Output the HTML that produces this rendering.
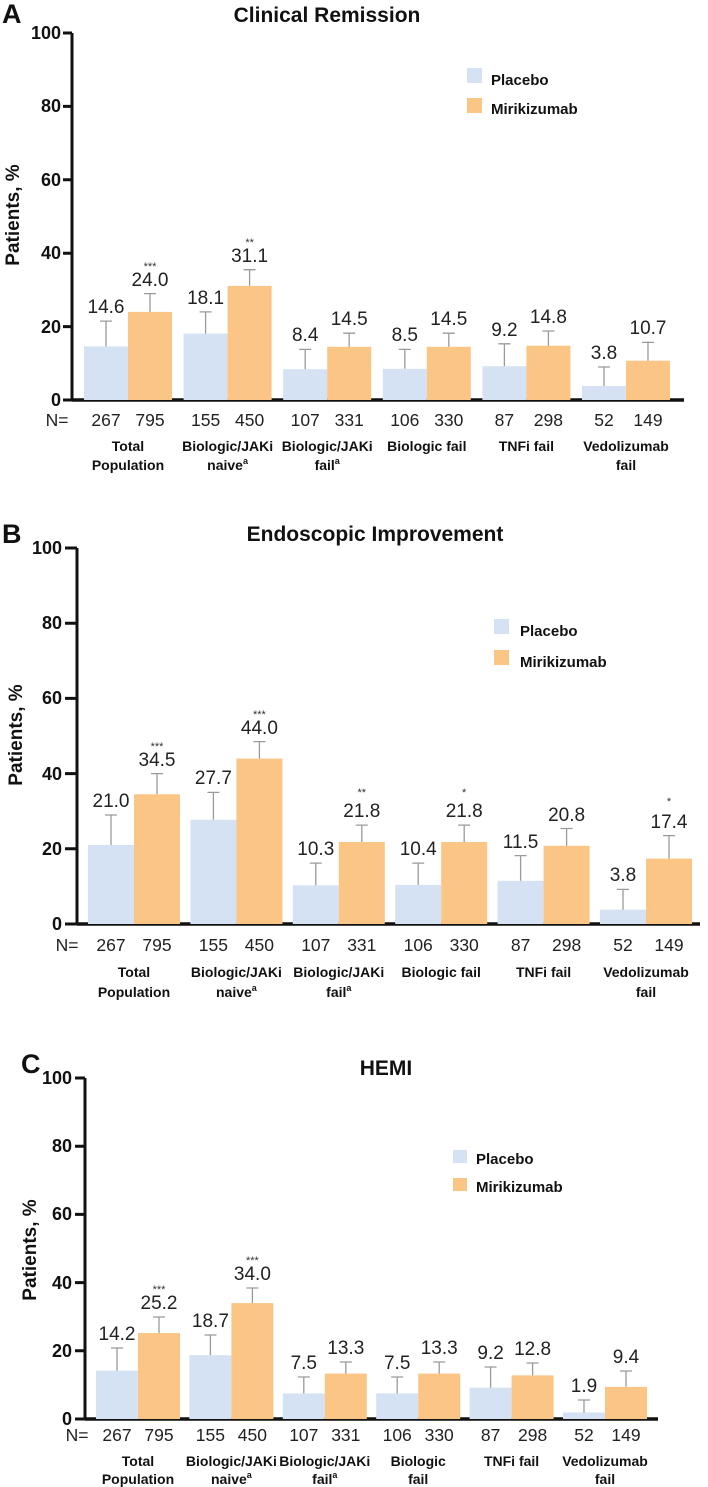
<!DOCTYPE html>
<html><head><meta charset="utf-8"><style>
html,body{margin:0;padding:0;background:#fff}
svg{display:block}
text{font-family:"Liberation Sans",Arial,sans-serif}
.v{font-size:19px;text-anchor:middle;fill:#222}
.n{font-size:17.5px;text-anchor:middle;fill:#222}
.t{font-size:18px;font-weight:bold;text-anchor:end;fill:#111}
.c{font-size:14px;font-weight:bold;text-anchor:middle;fill:#111}
.s{font-size:11px;text-anchor:middle;fill:#333}
.lg{font-size:15px;font-weight:bold;fill:#111}
.ti{font-size:21px;font-weight:bold;text-anchor:middle;fill:#111}
.pl{fill:#d4e2f4}.mi{fill:#fbc585}
.e{stroke:#9a9a9a;stroke-width:1.3;fill:none}
.ax{stroke:#111;fill:none}
</style></head><body>
<svg width="708" height="1487" viewBox="0 0 708 1487" xmlns="http://www.w3.org/2000/svg">
<!-- ============ PANEL A ============ -->
<text x="2" y="23" font-size="27" font-weight="bold" fill="#111">A</text>
<text class="ti" x="327" y="22">Clinical Remission</text>
<text font-size="19" font-weight="bold" fill="#111" text-anchor="middle" transform="translate(19,215) rotate(-90)">Patients, %</text>
<g class="ax" stroke-width="3"><path d="M72,33V401M63,33H72M63,106.4H72M63,179.8H72M63,253.2H72M63,326.6H72M63,400H72"/></g>
<path class="ax" stroke-width="3.5" d="M72,400H684"/>
<g><text class="t" x="61" y="39">100</text><text class="t" x="61" y="112">80</text><text class="t" x="61" y="186">60</text><text class="t" x="61" y="259">40</text><text class="t" x="61" y="333">20</text><text class="t" x="61" y="406">0</text></g>
<rect class="pl" x="84" y="346.4" width="44" height="53.6"/><rect class="pl" x="183.6" y="333.6" width="44" height="66.4"/><rect class="pl" x="283.2" y="369.2" width="44" height="30.8"/><rect class="pl" x="382.8" y="368.8" width="44" height="31.2"/><rect class="pl" x="482.4" y="366.2" width="44" height="33.8"/><rect class="pl" x="582" y="386.1" width="44" height="13.9"/>
<rect class="mi" x="128" y="311.9" width="44" height="88.1"/><rect class="mi" x="227.6" y="285.9" width="44" height="114.1"/><rect class="mi" x="327.2" y="346.8" width="44" height="53.2"/><rect class="mi" x="426.8" y="346.8" width="44" height="53.2"/><rect class="mi" x="526.4" y="345.7" width="44" height="54.3"/><rect class="mi" x="626" y="360.7" width="44" height="39.3"/>
<path class="e" d="M106,346.4V321.1M100,321.1H112M205.6,333.6V311.9M199.6,311.9H211.6M305.2,369.2V349.4M299.2,349.4H311.2M404.8,368.8V349.4M398.8,349.4H410.8M504.4,366.2V343.8M498.4,343.8H510.4M604,386.1V367M598,367H610M150,311.9V293.6M144,293.6H156M249.6,285.9V269.7M243.6,269.7H255.6M349.2,346.8V333.2M343.2,333.2H355.2M448.8,346.8V333.2M442.8,333.2H454.8M548.4,345.7V331M542.4,331H554.4M648,360.7V342.4M642,342.4H654"/>
<text class="v" x="106" y="313">14.6</text><text class="v" x="205.6" y="304">18.1</text><text class="v" x="305.2" y="341">8.4</text><text class="v" x="404.8" y="341">8.5</text><text class="v" x="504.4" y="336">9.2</text><text class="v" x="604" y="359">3.8</text>
<text class="v" x="150" y="286">24.0</text><text class="v" x="249.6" y="262">31.1</text><text class="v" x="349.2" y="325">14.5</text><text class="v" x="448.8" y="325">14.5</text><text class="v" x="548.4" y="323">14.8</text><text class="v" x="648" y="334">10.7</text>
<text class="s" x="150" y="270">***</text><text class="s" x="249.6" y="246">**</text>
<rect class="pl" x="467" y="68" width="15" height="15"/><text class="lg" x="491" y="85">Placebo</text>
<rect class="mi" x="467" y="98" width="15" height="15"/><text class="lg" x="491" y="114">Mirikizumab</text>
<text class="n" x="57" y="426" text-anchor="start">N=</text>
<text class="n" x="106" y="426">267</text><text class="n" x="150" y="426">795</text><text class="n" x="205.6" y="426">155</text><text class="n" x="249.6" y="426">450</text><text class="n" x="305.2" y="426">107</text><text class="n" x="349.2" y="426">331</text><text class="n" x="404.8" y="426">106</text><text class="n" x="448.8" y="426">330</text><text class="n" x="504.4" y="426">87</text><text class="n" x="548.4" y="426">298</text><text class="n" x="604" y="426">52</text><text class="n" x="648" y="426">149</text>
<text class="c" x="128" y="451">Total</text><text class="c" x="128" y="470">Population</text>
<text class="c" x="227.6" y="451">Biologic/JAKi</text><text class="c" x="227.6" y="470">naive<tspan font-size="9" dy="-6">a</tspan></text>
<text class="c" x="327.2" y="451">Biologic/JAKi</text><text class="c" x="327.2" y="470">fail<tspan font-size="9" dy="-6">a</tspan></text>
<text class="c" x="426.8" y="451">Biologic fail</text>
<text class="c" x="526.4" y="451">TNFi fail</text>
<text class="c" x="626" y="451">Vedolizumab</text><text class="c" x="626" y="470">fail</text>

<!-- ============ PANEL B ============ -->
<text x="2" y="543" font-size="27" font-weight="bold" fill="#111">B</text>
<text class="ti" x="375" y="541">Endoscopic Improvement</text>
<text font-size="19" font-weight="bold" fill="#111" text-anchor="middle" transform="translate(22,735) rotate(-90)">Patients, %</text>
<g class="ax" stroke-width="3"><path d="M77,548V925M65,548H77M65,623.2H77M65,698.4H77M65,773.6H77M65,848.8H77M65,924H77"/></g>
<path class="ax" stroke-width="3.5" d="M77,924H700"/>
<g><text class="t" x="62" y="554">100</text><text class="t" x="62" y="629">80</text><text class="t" x="62" y="704">60</text><text class="t" x="62" y="780">40</text><text class="t" x="62" y="855">20</text><text class="t" x="62" y="930">0</text></g>
<rect class="pl" x="88" y="845" width="46" height="79"/><rect class="pl" x="190.4" y="819.8" width="46" height="104.2"/><rect class="pl" x="292.8" y="885.3" width="46" height="38.7"/><rect class="pl" x="395.2" y="884.9" width="46" height="39.1"/><rect class="pl" x="497.6" y="880.8" width="46" height="43.2"/><rect class="pl" x="600" y="909.7" width="46" height="14.3"/>
<rect class="mi" x="134" y="794.3" width="46" height="129.7"/><rect class="mi" x="236.4" y="758.6" width="46" height="165.4"/><rect class="mi" x="338.8" y="842" width="46" height="82"/><rect class="mi" x="441.2" y="842" width="46" height="82"/><rect class="mi" x="543.6" y="845.8" width="46" height="78.2"/><rect class="mi" x="646" y="858.6" width="46" height="65.4"/>
<path class="e" d="M111,845V815M105,815H117M213.4,819.8V792.4M207.4,792.4H219.4M315.8,885.3V863.1M309.8,863.1H321.8M418.2,884.9V863.1M412.2,863.1H424.2M520.6,880.8V855.6M514.6,855.6H526.6M623,909.7V889.4M617,889.4H629M157,794.3V773.6M151,773.6H163M259.4,758.6V741.6M253.4,741.6H265.4M361.8,842V825.1M355.8,825.1H367.8M464.2,842V825.1M458.2,825.1H470.2M566.6,845.8V828.5M560.6,828.5H572.6M669,858.6V835.6M663,835.6H675"/>
<text class="v" x="111" y="807">21.0</text><text class="v" x="213.4" y="784">27.7</text><text class="v" x="315.8" y="855">10.3</text><text class="v" x="418.2" y="855">10.4</text><text class="v" x="520.6" y="848">11.5</text><text class="v" x="623" y="881">3.8</text>
<text class="v" x="157" y="766">34.5</text><text class="v" x="259.4" y="734">44.0</text><text class="v" x="361.8" y="817">21.8</text><text class="v" x="464.2" y="817">21.8</text><text class="v" x="566.6" y="821">20.8</text><text class="v" x="669" y="828">17.4</text>
<text class="s" x="157" y="750">***</text><text class="s" x="259.4" y="718">***</text><text class="s" x="361.8" y="796">**</text><text class="s" x="464.2" y="796">*</text><text class="s" x="669" y="805">*</text>
<rect class="pl" x="494" y="619" width="15" height="15"/><text class="lg" x="520" y="636">Placebo</text>
<rect class="mi" x="494" y="650" width="15" height="15"/><text class="lg" x="520" y="667">Mirikizumab</text>
<text class="n" x="67" y="951" text-anchor="start">N=</text>
<text class="n" x="111" y="951">267</text><text class="n" x="157" y="951">795</text><text class="n" x="213.4" y="951">155</text><text class="n" x="259.4" y="951">450</text><text class="n" x="315.8" y="951">107</text><text class="n" x="361.8" y="951">331</text><text class="n" x="418.2" y="951">106</text><text class="n" x="464.2" y="951">330</text><text class="n" x="520.6" y="951">87</text><text class="n" x="566.6" y="951">298</text><text class="n" x="623" y="951">52</text><text class="n" x="669" y="951">149</text>
<text class="c" x="134" y="977">Total</text><text class="c" x="134" y="997">Population</text>
<text class="c" x="236.4" y="977">Biologic/JAKi</text><text class="c" x="236.4" y="997">naive<tspan font-size="9" dy="-6">a</tspan></text>
<text class="c" x="338.8" y="977">Biologic/JAKi</text><text class="c" x="338.8" y="997">fail<tspan font-size="9" dy="-6">a</tspan></text>
<text class="c" x="441.2" y="977">Biologic fail</text>
<text class="c" x="543.6" y="977">TNFi fail</text>
<text class="c" x="646" y="977">Vedolizumab</text><text class="c" x="646" y="997">fail</text>

<!-- ============ PANEL C ============ -->
<text x="21" y="1073" font-size="27" font-weight="bold" fill="#111">C</text>
<text class="ti" x="386" y="1075">HEMI</text>
<text font-size="19" font-weight="bold" fill="#111" text-anchor="middle" transform="translate(36,1250) rotate(-90)">Patients, %</text>
<g class="ax" stroke-width="3"><path d="M85,1078V1420M75,1078H85M75,1146.2H85M75,1214.4H85M75,1282.6H85M75,1350.8H85M75,1419H85"/></g>
<path class="ax" stroke-width="3.5" d="M85,1419H658"/>
<g><text class="t" x="72" y="1084">100</text><text class="t" x="72" y="1152">80</text><text class="t" x="72" y="1220">60</text><text class="t" x="72" y="1289">40</text><text class="t" x="72" y="1357">20</text><text class="t" x="72" y="1425">0</text></g>
<rect class="pl" x="96" y="1370.6" width="42" height="48.4"/><rect class="pl" x="189.4" y="1355.2" width="42" height="63.8"/><rect class="pl" x="282.8" y="1393.4" width="42" height="25.6"/><rect class="pl" x="376.2" y="1393.4" width="42" height="25.6"/><rect class="pl" x="469.6" y="1387.6" width="42" height="31.4"/><rect class="pl" x="563" y="1412.5" width="42" height="6.5"/>
<rect class="mi" x="138" y="1333.1" width="42" height="85.9"/><rect class="mi" x="231.4" y="1303.1" width="42" height="115.9"/><rect class="mi" x="324.8" y="1373.6" width="42" height="45.4"/><rect class="mi" x="418.2" y="1373.6" width="42" height="45.4"/><rect class="mi" x="511.6" y="1375.4" width="42" height="43.6"/><rect class="mi" x="605" y="1386.9" width="42" height="32.1"/>
<path class="e" d="M117,1370.6V1348M111,1348H123M210.4,1355.2V1335M204.4,1335H216.4M303.8,1393.4V1377M297.8,1377H309.8M397.2,1393.4V1377M391.2,1377H403.2M490.6,1387.6V1367M484.6,1367H496.6M584,1412.5V1400M578,1400H590M159,1333.1V1317M153,1317H165M252.4,1303.1V1288M246.4,1288H258.4M345.8,1373.6V1362M339.8,1362H351.8M439.2,1373.6V1362M433.2,1362H445.2M532.6,1375.4V1363M526.6,1363H538.6M626,1386.9V1371M620,1371H632"/>
<text class="v" x="117" y="1340">14.2</text><text class="v" x="210.4" y="1327">18.7</text><text class="v" x="303.8" y="1369">7.5</text><text class="v" x="397.2" y="1369">7.5</text><text class="v" x="490.6" y="1359">9.2</text><text class="v" x="584" y="1392">1.9</text>
<text class="v" x="159" y="1309">25.2</text><text class="v" x="252.4" y="1280">34.0</text><text class="v" x="345.8" y="1354">13.3</text><text class="v" x="439.2" y="1354">13.3</text><text class="v" x="532.6" y="1355">12.8</text><text class="v" x="626" y="1363">9.4</text>
<text class="s" x="159" y="1293">***</text><text class="s" x="252.4" y="1264">***</text>
<rect class="pl" x="453" y="1150" width="14" height="13"/><text class="lg" x="476" y="1164">Placebo</text>
<rect class="mi" x="453" y="1178" width="14" height="13"/><text class="lg" x="476" y="1192">Mirikizumab</text>
<text class="n" x="77" y="1441" text-anchor="start">N=</text>
<text class="n" x="117" y="1441">267</text><text class="n" x="159" y="1441">795</text><text class="n" x="210.4" y="1441">155</text><text class="n" x="252.4" y="1441">450</text><text class="n" x="303.8" y="1441">107</text><text class="n" x="345.8" y="1441">331</text><text class="n" x="397.2" y="1441">106</text><text class="n" x="439.2" y="1441">330</text><text class="n" x="490.6" y="1441">87</text><text class="n" x="532.6" y="1441">298</text><text class="n" x="584" y="1441">52</text><text class="n" x="626" y="1441">149</text>
<text class="c" x="138" y="1466">Total</text><text class="c" x="138" y="1484">Population</text>
<text class="c" x="231.4" y="1466">Biologic/JAKi</text><text class="c" x="231.4" y="1484">naive<tspan font-size="9" dy="-6">a</tspan></text>
<text class="c" x="324.8" y="1466">Biologic/JAKi</text><text class="c" x="324.8" y="1484">fail<tspan font-size="9" dy="-6">a</tspan></text>
<text class="c" x="418.2" y="1466">Biologic</text><text class="c" x="418.2" y="1484">fail</text>
<text class="c" x="511.6" y="1466">TNFi fail</text>
<text class="c" x="605" y="1466">Vedolizumab</text><text class="c" x="605" y="1484">fail</text>
</svg>
</body></html>
